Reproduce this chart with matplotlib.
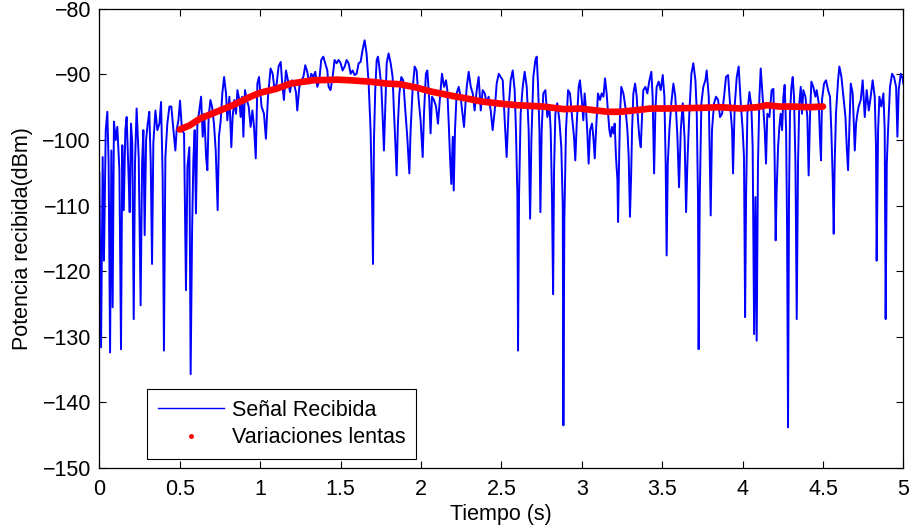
import matplotlib
matplotlib.use("Agg")
import matplotlib.pyplot as plt
from matplotlib.lines import Line2D
from matplotlib.ticker import MultipleLocator, FuncFormatter

# received signal (s, dBm)
signal_t = [
    0.000, 0.011, 0.021, 0.029, 0.040, 0.050, 0.058, 0.067, 0.075, 0.083,
    0.091, 0.102, 0.112, 0.125, 0.135, 0.143, 0.152, 0.162, 0.170, 0.181,
    0.189, 0.197, 0.205, 0.214, 0.222, 0.232, 0.245, 0.257, 0.266, 0.274,
    0.282, 0.291, 0.301, 0.311, 0.320, 0.328, 0.336, 0.349, 0.361, 0.374,
    0.384, 0.394, 0.402, 0.411, 0.423, 0.436, 0.448, 0.461, 0.473, 0.481,
    0.492, 0.502, 0.514, 0.527, 0.539, 0.548, 0.560, 0.568, 0.577, 0.585,
    0.593, 0.601, 0.610, 0.622, 0.633, 0.643, 0.653, 0.664, 0.672, 0.680,
    0.691, 0.701, 0.713, 0.724, 0.736, 0.744, 0.755, 0.765, 0.776, 0.788,
    0.796, 0.809, 0.821, 0.829, 0.840, 0.850, 0.859, 0.871, 0.879, 0.888,
    0.896, 0.906, 0.917, 0.929, 0.941, 0.952, 0.962, 0.973, 0.983, 0.993,
    1.009, 1.024, 1.036, 1.049, 1.065, 1.078, 1.090, 1.103, 1.115, 1.128,
    1.136, 1.148, 1.161, 1.173, 1.186, 1.198, 1.210, 1.223, 1.231, 1.244,
    1.256, 1.269, 1.281, 1.293, 1.306, 1.318, 1.331, 1.343, 1.356, 1.368,
    1.380, 1.393, 1.405, 1.418, 1.426, 1.438, 1.451, 1.463, 1.476, 1.488,
    1.501, 1.513, 1.526, 1.538, 1.550, 1.563, 1.575, 1.588, 1.600, 1.613,
    1.625, 1.637, 1.650, 1.662, 1.675, 1.687, 1.696, 1.702, 1.708, 1.716,
    1.725, 1.733, 1.741, 1.754, 1.762, 1.770, 1.778, 1.787, 1.799, 1.812,
    1.824, 1.832, 1.841, 1.849, 1.857, 1.866, 1.878, 1.890, 1.903, 1.915,
    1.928, 1.936, 1.948, 1.961, 1.973, 1.986, 1.998, 2.011, 2.019, 2.031,
    2.040, 2.052, 2.060, 2.069, 2.081, 2.094, 2.106, 2.119, 2.131, 2.144,
    2.156, 2.164, 2.173, 2.181, 2.189, 2.198, 2.204, 2.212, 2.222, 2.235,
    2.247, 2.256, 2.268, 2.276, 2.285, 2.297, 2.310, 2.322, 2.334, 2.347,
    2.359, 2.372, 2.384, 2.397, 2.409, 2.421, 2.434, 2.446, 2.459, 2.471,
    2.484, 2.496, 2.509, 2.521, 2.533, 2.546, 2.558, 2.571, 2.583, 2.591,
    2.600, 2.604, 2.610, 2.620, 2.633, 2.645, 2.658, 2.670, 2.679, 2.687,
    2.699, 2.712, 2.720, 2.728, 2.737, 2.743, 2.751, 2.761, 2.774, 2.786,
    2.799, 2.807, 2.815, 2.822, 2.828, 2.836, 2.848, 2.861, 2.873, 2.882,
    2.886, 2.892, 2.902, 2.915, 2.927, 2.940, 2.952, 2.960, 2.969, 2.981,
    2.989, 3.002, 3.010, 3.018, 3.027, 3.035, 3.043, 3.052, 3.064, 3.072,
    3.081, 3.089, 3.101, 3.114, 3.124, 3.135, 3.145, 3.155, 3.164, 3.172,
    3.180, 3.188, 3.197, 3.205, 3.213, 3.222, 3.226, 3.232, 3.238, 3.246,
    3.259, 3.271, 3.284, 3.292, 3.300, 3.307, 3.313, 3.321, 3.332, 3.342,
    3.350, 3.358, 3.367, 3.375, 3.383, 3.396, 3.408, 3.421, 3.433, 3.441,
    3.450, 3.458, 3.466, 3.479, 3.491, 3.504, 3.514, 3.522, 3.528, 3.535,
    3.545, 3.557, 3.570, 3.582, 3.595, 3.605, 3.616, 3.628, 3.640, 3.649,
    3.657, 3.669, 3.682, 3.694, 3.707, 3.715, 3.723, 3.727, 3.734, 3.744,
    3.756, 3.769, 3.777, 3.790, 3.802, 3.810, 3.823, 3.835, 3.848, 3.860,
    3.873, 3.885, 3.897, 3.910, 3.922, 3.935, 3.941, 3.951, 3.964, 3.976,
    3.989, 4.001, 4.009, 4.016, 4.022, 4.030, 4.043, 4.055, 4.063, 4.072,
    4.080, 4.088, 4.096, 4.105, 4.113, 4.125, 4.138, 4.146, 4.154, 4.167,
    4.181, 4.192, 4.200, 4.206, 4.212, 4.221, 4.229, 4.237, 4.246, 4.254,
    4.262, 4.271, 4.277, 4.283, 4.289, 4.295, 4.304, 4.312, 4.320, 4.329,
    4.337, 4.345, 4.353, 4.362, 4.370, 4.378, 4.391, 4.403, 4.411, 4.420,
    4.428, 4.440, 4.453, 4.461, 4.474, 4.482, 4.488, 4.494, 4.507, 4.519,
    4.532, 4.544, 4.552, 4.561, 4.567, 4.573, 4.581, 4.594, 4.602, 4.615,
    4.627, 4.640, 4.648, 4.656, 4.664, 4.673, 4.685, 4.698, 4.706, 4.714,
    4.722, 4.735, 4.747, 4.760, 4.772, 4.785, 4.797, 4.809, 4.822, 4.830,
    4.834, 4.843, 4.851, 4.863, 4.876, 4.884, 4.890, 4.897, 4.905, 4.917,
    4.930, 4.942, 4.955, 4.963, 4.971, 4.984, 4.996, 5.000,
]
signal_dbm = [
    -105.0, -131.6, -102.6, -118.4, -98.5, -95.7, -103.6, -132.4, -101.6, -125.5,
    -97.2, -100.0, -98.0, -104.6, -131.9, -100.8, -110.7, -98.5, -96.5, -104.6,
    -111.0, -97.5, -100.5, -127.3, -103.6, -95.2, -102.6, -125.2, -103.6, -98.5,
    -114.5, -100.0, -97.5, -95.7, -103.6, -118.9, -100.5, -95.5, -98.5, -97.5,
    -94.2, -105.6, -132.1, -102.6, -97.5, -94.9, -94.9, -98.5, -101.6, -98.5,
    -97.0, -94.0, -98.5, -99.0, -122.9, -104.1, -101.1, -135.7, -113.8, -103.1,
    -98.5, -111.2, -97.5, -95.5, -93.4, -99.5, -96.0, -102.6, -104.6, -96.5,
    -93.9, -94.9, -97.5, -101.6, -110.7, -99.5, -97.0, -92.9, -90.4, -92.9,
    -97.0, -93.4, -101.1, -96.5, -93.9, -96.0, -92.4, -93.9, -96.5, -93.4,
    -99.5, -92.4, -93.9, -94.9, -98.0, -95.5, -98.0, -102.8, -91.4, -90.4,
    -94.9, -96.0, -99.8, -93.4, -89.1, -89.9, -92.4, -91.4, -88.8, -88.1,
    -90.9, -93.9, -89.4, -90.9, -92.7, -90.9, -91.4, -92.7, -95.5, -91.9,
    -90.9, -90.4, -88.6, -89.6, -91.4, -89.9, -90.4, -89.6, -91.9, -90.9,
    -87.8, -87.3, -88.3, -89.4, -91.9, -92.4, -90.4, -87.8, -88.3, -87.8,
    -88.3, -89.4, -88.8, -87.8, -88.3, -89.9, -89.4, -90.1, -89.9, -88.3,
    -88.1, -86.3, -84.8, -86.8, -91.4, -98.5, -108.7, -118.9, -100.0, -92.4,
    -87.8, -87.3, -88.8, -91.9, -96.5, -101.6, -95.5, -88.3, -86.8, -88.3,
    -90.4, -95.5, -100.5, -105.4, -97.5, -92.9, -90.4, -90.9, -95.5, -99.5,
    -105.1, -98.5, -92.4, -88.8, -89.4, -93.9, -97.0, -102.6, -96.0, -89.9,
    -89.4, -93.9, -99.0, -93.4, -93.9, -94.9, -97.5, -93.4, -89.9, -91.9,
    -90.9, -92.4, -97.5, -102.6, -106.7, -99.5, -107.7, -98.5, -92.9, -91.9,
    -93.4, -95.5, -98.0, -94.9, -91.9, -89.6, -91.9, -92.9, -95.5, -92.4,
    -90.4, -95.5, -92.4, -92.9, -94.4, -93.4, -95.5, -98.5, -95.5, -91.4,
    -89.9, -90.4, -90.9, -97.0, -102.6, -94.9, -90.9, -89.4, -92.4, -98.5,
    -108.7, -132.1, -108.7, -96.0, -91.9, -89.6, -91.9, -98.5, -112.0, -100.0,
    -90.4, -87.8, -87.3, -91.4, -98.5, -111.0, -98.5, -92.9, -92.4, -96.5,
    -94.9, -98.5, -108.7, -123.5, -104.6, -96.0, -94.4, -97.0, -101.1, -110.0,
    -143.5, -112.0, -98.5, -92.4, -92.9, -96.5, -99.5, -103.1, -97.5, -91.9,
    -90.9, -94.4, -97.0, -92.9, -95.5, -99.0, -103.6, -98.5, -97.5, -99.5,
    -102.8, -98.5, -92.9, -93.9, -92.9, -93.4, -90.6, -92.9, -96.0, -98.5,
    -99.5, -98.0, -99.0, -97.5, -102.6, -106.1, -112.5, -103.6, -96.0, -91.9,
    -92.9, -94.9, -98.5, -102.6, -111.7, -105.6, -98.5, -92.9, -91.4, -93.4,
    -97.0, -99.5, -101.1, -96.5, -92.4, -91.9, -92.9, -90.9, -89.6, -93.4,
    -105.1, -95.5, -91.9, -91.1, -92.4, -90.1, -93.4, -103.6, -117.6, -103.6,
    -98.5, -94.4, -91.4, -93.4, -99.5, -107.2, -98.5, -94.4, -100.0, -111.0,
    -103.6, -96.0, -89.9, -88.3, -90.9, -95.5, -108.7, -131.9, -108.7, -94.4,
    -91.9, -90.9, -89.4, -93.4, -111.5, -98.5, -94.4, -93.4, -93.9, -96.5,
    -96.0, -93.4, -90.4, -90.1, -94.4, -98.5, -105.1, -94.9, -90.4, -88.8,
    -94.4, -98.5, -102.6, -127.0, -108.7, -96.0, -92.7, -94.9, -101.1, -129.6,
    -108.7, -130.6, -103.6, -93.4, -89.1, -93.4, -98.5, -103.6, -96.0, -96.5,
    -92.4, -92.2, -103.6, -115.3, -107.7, -101.1, -98.0, -96.0, -98.5, -93.4,
    -91.6, -98.5, -113.8, -143.8, -108.7, -96.0, -91.9, -90.4, -93.4, -103.6,
    -127.3, -103.6, -94.4, -91.9, -96.0, -92.4, -93.4, -96.5, -105.4, -96.0,
    -91.1, -91.9, -93.4, -92.4, -94.4, -100.0, -103.1, -93.9, -91.4, -90.9,
    -92.4, -93.4, -98.5, -106.1, -114.3, -103.6, -96.0, -90.9, -88.8, -90.4,
    -93.4, -96.5, -101.1, -104.6, -98.5, -91.4, -92.9, -101.6, -97.5, -96.0,
    -94.9, -93.9, -90.9, -96.5, -92.4, -95.5, -93.4, -90.9, -93.4, -101.1,
    -118.4, -98.5, -93.4, -94.9, -92.9, -98.5, -127.3, -103.6, -98.5, -91.9,
    -89.9, -90.4, -91.9, -99.5, -92.4, -89.9, -90.6, -91.4,
]

# slow variations (local mean)
slow_t = [0.50, 0.56, 0.63, 0.73, 0.83, 0.94, 1.00, 1.10, 1.19, 1.33,
          1.48, 1.56, 1.68, 1.79, 1.87, 1.97, 2.06, 2.14, 2.20, 2.29,
          2.37, 2.47, 2.60, 2.76, 2.89, 2.99, 3.16, 3.24, 3.32, 3.43,
          3.53, 3.74, 3.86, 3.99, 4.09, 4.15, 4.23, 4.30, 4.42, 4.50]
slow_dbm = [-98.4, -97.8, -96.7, -95.7, -94.7, -93.4, -92.8, -92.2, -91.4, -90.9,
            -90.8, -90.9, -91.1, -91.4, -91.5, -92.0, -92.6, -93.0, -93.3, -93.7,
            -94.1, -94.4, -94.7, -94.9, -95.3, -95.2, -95.7, -95.7, -95.5, -95.2,
            -95.2, -95.1, -95.0, -95.2, -95.0, -94.7, -94.9, -94.9, -95.0, -94.9]

plt.rcParams['font.family'] = ['Liberation Sans', 'DejaVu Sans']
plt.rcParams['font.size'] = 15.5

fig = plt.figure(figsize=(9.11, 5.30), dpi=100)
ax = fig.add_axes([0.109, 0.117, 0.8826, 0.8664])

ax.plot(signal_t, signal_dbm, color='#0000ff', lw=1.4)
ax.plot(slow_t, slow_dbm, color='#ff0000', lw=4.8, solid_capstyle='round')

ax.set_xlim(0, 5)
ax.set_ylim(-150, -80)
ax.xaxis.set_major_locator(MultipleLocator(0.5))
ax.yaxis.set_major_locator(MultipleLocator(10))
ax.xaxis.set_major_formatter(FuncFormatter(lambda v, p: f'{v:g}'))
ax.tick_params(direction='in', top=True, right=True, length=5, width=0.8,
               labelsize=15.5)
ax.tick_params(axis='x', pad=8)
ax.tick_params(axis='y', pad=6)
for s in ax.spines.values():
    s.set_linewidth(0.9)

ax.set_xlabel('Tiempo (s)', fontsize=15.5, labelpad=3)
ax.set_ylabel('Potencia recibida(dBm)', fontsize=15.5)
ax.yaxis.set_label_coords(-0.0825, 0.5)

handles = [
    Line2D([], [], color='#0000ff', lw=1.0),
    Line2D([], [], color='#ff0000', marker='.', ls='none', markersize=5),
]
leg = ax.legend(handles, ['Señal Recibida', 'Variaciones lentas'],
                loc='lower left', bbox_to_anchor=(0.059, 0.02),
                fancybox=False, framealpha=1, edgecolor='black',
                fontsize=15.5, handlelength=3.1, borderpad=0.5,
                labelspacing=0.3, handletextpad=0.35, borderaxespad=0)
leg.get_frame().set_linewidth(0.8)

fig.savefig('out.png', dpi=100)
